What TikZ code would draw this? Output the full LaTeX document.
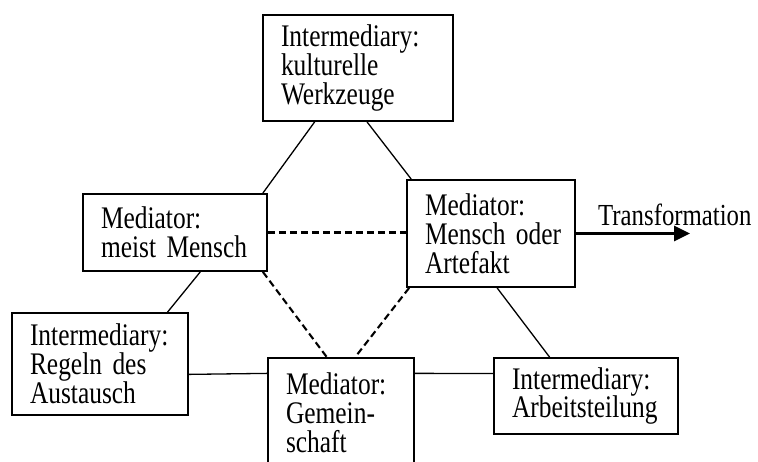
\documentclass[tikz,border=0pt]{standalone}
\usepackage{fontspec}
\setmainfont{Liberation Serif}
\newfontfamily\boxfont[FakeStretch=0.81]{Liberation Serif}
\usetikzlibrary{arrows.meta, calc}
\hyphenpenalty=10000

\begin{document}
\begin{tikzpicture}[x=1pt, y=-1pt,
  box/.style={draw, line width=1.8pt, rectangle, align=left, inner xsep=18pt, inner ysep=0pt,
    font=\boxfont\fontsize{31.4}{28.8}\selectfont},
  link/.style={line width=1.3pt},
  dashlink/.style={line width=2.1pt, dash pattern=on 7pt off 4pt}]
\useasboundingbox (0,0) rectangle (758,462);
\clip (0,0) rectangle (758,462);

% Top box
\node[box, text width=154pt, minimum height=106pt] (werkzeuge) at (358,68) {Intermediary:\\kulturelle\\Werkzeuge};

% Mediators
\node[box, text width=148pt, minimum height=77pt] (mensch) at (175,232.5) {Mediator:\\meist~Mensch};
\node[box, text width=132pt, minimum height=107pt] (artefakt) at (491,233.5) {Mediator:\\Mensch~oder\\Artefakt};
\node[box, text width=110pt, minimum height=109pt] (gemeinschaft) at (341,412.5) {Mediator:\\Gemein-\\schaft};

% Bottom intermediaries
\node[box, text width=140pt, minimum height=102pt] (regeln) at (100,364) {Intermediary:\\Regeln~des\\Austausch};
\node[box, text width=148pt, minimum height=76pt] (arbeit) at (586,396) {Intermediary:\\Arbeitsteilung};

% Transformation arrow
\node[anchor=base west, inner sep=0pt, font=\boxfont\fontsize{30.6}{28}\selectfont] (trans) at (598,226) {Transformation};
\coordinate (tip) at (690,233.5);
\draw[line width=2.8pt, -{Triangle[length=16pt, width=15pt]}] (artefakt.east) -- (artefakt.east -| tip);

% Solid links
\draw[link] ($(werkzeuge.south west)!0.274!(werkzeuge.south east)$) -- ($(mensch.north west)!0.973!(mensch.north east)$);
\draw[link] ($(werkzeuge.south west)!0.547!(werkzeuge.south east)$) -- ($(artefakt.north west)!0.03!(artefakt.north east)$);
\draw[link] ($(mensch.south west)!0.636!(mensch.south east)$) -- ($(regeln.north west)!0.88!(regeln.north east)$);
\draw[link] ($(artefakt.south west)!0.536!(artefakt.south east)$) -- ($(arbeit.north west)!0.304!(arbeit.north east)$);
\draw[link] ($(regeln.north east)!0.6!(regeln.south east)$) -- ($(gemeinschaft.north west)!0.147!(gemeinschaft.south west)$);
\draw[link] ($(gemeinschaft.north east)!0.147!(gemeinschaft.south east)$) -- ($(arbeit.north west)!0.21!(arbeit.south west)$);

% Dashed links
\draw[dashlink] (mensch.east) -- (mensch.east -| artefakt.west);
\draw[dashlink] ($(mensch.south west)!0.973!(mensch.south east)$) -- ($(gemeinschaft.north west)!0.404!(gemeinschaft.north east)$);
\draw[dashlink] ($(artefakt.south west)!0.018!(artefakt.south east)$) -- ($(gemeinschaft.north west)!0.596!(gemeinschaft.north east)$);
\end{tikzpicture}
\end{document}
